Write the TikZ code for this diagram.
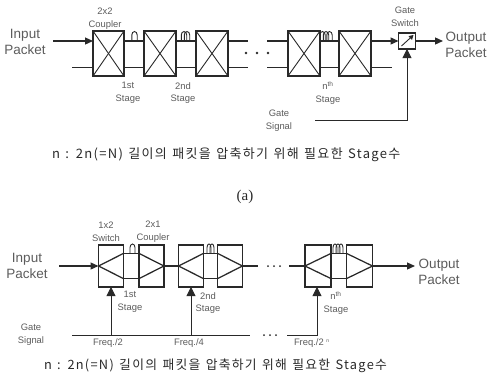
\documentclass[tikz,border=0pt]{standalone}
\usepackage{fontspec}
\setmainfont{Liberation Sans}
\newfontfamily\cjk[LetterSpace=10,WordSpace=1.3]{Noto Sans CJK KR}
\newfontfamily\serifrm{Liberation Serif}
\usetikzlibrary{arrows.meta,calc}
\definecolor{ink}{gray}{0.16}
\definecolor{soft}{gray}{0.36}
\tikzset{
  every node/.style={inner sep=0pt,outer sep=0pt},
  wire/.style={draw=ink,line width=1.25pt},
  thin wire/.style={draw=ink,line width=0.9pt},
  sig/.style={thin wire,-{Triangle[length=9pt,width=9pt]}},
  pkt/.style={wire,-{Triangle[length=8pt,width=7pt]}},
  xbox/.style={draw=ink,line width=1.3pt,minimum width=31pt,minimum height=45pt},
  ybox/.style={draw=ink,line width=1.3pt,minimum width=25pt,minimum height=42pt},
  coil/.style={draw=ink,line width=0.9pt},
  big/.style={text=soft,font=\fontsize{13.5}{16}\selectfont,align=center},
  small/.style={text=soft,font=\fontsize{9.4}{12.7}\selectfont,align=center},
  note/.style={text=ink,font=\fontsize{13}{15}\cjk,anchor=west}
}
\newcommand{\crossbox}[1]{
  \draw[thin wire] (#1.north west) -- (#1.south east);
  \draw[thin wire] (#1.south west) -- (#1.north east);
}
\newcommand{\splitbox}[1]{
  \draw[wire] (#1.west) -- ($(#1.north east)!0.2!(#1.south east)$);
  \draw[wire] (#1.west) -- ($(#1.north east)!0.8!(#1.south east)$);
}
\newcommand{\mergebox}[1]{
  \draw[wire] (#1.east) -- ($(#1.north west)!0.2!(#1.south west)$);
  \draw[wire] (#1.east) -- ($(#1.north west)!0.8!(#1.south west)$);
}
\newcommand{\coilat}[3]{
  \draw[coil] (#1-#3,#2) -- (#1-#3,#2-6) arc (-180:0:#3 and 3.5) -- (#1+#3,#2);
}
\begin{document}
\begin{tikzpicture}[x=1pt,y=-1pt]
\useasboundingbox (0,0) rectangle (490,378);
% ---- top diagram
\node[big] (inA) at (25,42) {Input\\Packet};
\node[small] (cplA) at (105,19) {2x2\\Coupler};
\node[xbox] (a1) at (108.5,53.5) {};
\node[xbox,minimum width=32pt] (a2) at (160,53.5) {};
\node[xbox,minimum width=32pt] (a3) at (212,53.5) {};
\node[xbox,minimum width=32pt] (a4) at (304,53.5) {};
\node[xbox,minimum width=32pt] (a5) at (355,53.5) {};
\foreach \b in {a1,a2,a3,a4,a5}{\crossbox{\b}}
\coordinate (i1) at (53,41);
\coordinate (i2) at (72,67.5);
\draw[pkt] (i1) -- (a1.west |- i1);
\draw[wire] (i2) -- (a1.west |- i2);
\draw[wire] (a1.east |- i1) -- (a2.west |- i1);
\draw[wire] (a1.east |- i2) -- (a2.west |- i2);
\draw[wire] (a2.east |- i1) -- (a3.west |- i1);
\draw[wire] (a2.east |- i2) -- (a3.west |- i2);
\coordinate (g1) at (248,41); \coordinate (g2) at (248,67.5);
\coordinate (h1) at (267,41); \coordinate (h2) at (267,67.5);
\draw[wire] (a3.east |- i1) -- (g1);
\draw[wire] (a3.east |- i2) -- (g2);
\draw[wire] (h1) -- (a4.west |- i1);
\draw[wire] (h2) -- (a4.west |- i2);
\draw[wire] (a4.east |- i1) -- (a5.west |- i1);
\draw[wire] (a4.east |- i2) -- (a5.west |- i2);
\fill[ink] (246,53) circle (1.3) (257,53) circle (1.3) (268,53) circle (1.3);
\coilat{134.5}{41}{2.7}
\coilat{184}{41}{2.7}\coilat{187}{41}{2.7}
\coilat{322.5}{41}{2.7}\coilat{326}{41}{2.7}\coilat{329.5}{41}{2.7}
\node[draw=ink,line width=1.3pt,minimum width=17pt,minimum height=16pt] (gs) at (407,41) {};
\draw[thin wire,-{Triangle[length=4.5pt,width=5pt]}] ($(gs.south west)+(3,-3)$) -- ($(gs.north east)+(-2,2)$);
\draw[pkt] (a5.east |- i1) -- (gs.west);
\draw[wire] (a5.east |- i2) -- (392,67.5);
\node[big] (outA) at (466,45) {Output\\Packet};
\draw[pkt] (gs.east) -- (443,41);
\node[small] (gsl) at (405,17) {Gate\\Switch};
\node[small] (s1) at (128,93) {1st\\Stage};
\node[small] (s2) at (183,93) {2nd\\Stage};
\node[small] (sn) at (328,93) {n$^{\mathrm{th}}$\\Stage};
\node[small] (gsig) at (279,121) {Gate\\Signal};
\coordinate (gc) at (315,120);
\draw[sig] (gc) -| (gs.south);
\node[note] (noteA) at (52,155) {n : 2n(=N) 길이의 패킷을 압축하기 위해 필요한 Stage수};
\node[font=\fontsize{15}{17}\serifrm,text=ink] (cap) at (245,197) {(a)};
% ---- bottom diagram
\node[big] (inB) at (27,266) {Input\\Packet};
\node[small] (sw) at (106,232) {1x2\\Switch};
\node[small] (cp) at (153,232) {2x1\\Coupler};
\node[ybox] (b1) at (111,266) {};
\node[ybox] (b2) at (151.5,266) {};
\node[ybox] (b3) at (191,266) {};
\node[ybox] (b4) at (230,266) {};
\node[ybox,minimum width=26pt] (b5) at (318,266) {};
\node[ybox,minimum width=26pt] (b6) at (359.5,266) {};
\foreach \b in {b1,b3,b5}{\splitbox{\b}}
\foreach \b in {b2,b4,b6}{\mergebox{\b}}
\coordinate (u) at (0,253.5); \coordinate (l) at (0,278.5);
\draw[pkt] (59,266) -- (b1.west);
\foreach \p/\q in {b1/b2,b3/b4,b5/b6}{
  \draw[wire] (\p.east |- u) -- (\q.west |- u);
  \draw[wire] (\p.east |- l) -- (\q.west |- l);
}
\draw[wire] (b2.east) -- (b3.west);
\coordinate (c1) at (258,266); \coordinate (c3) at (289,266);
\draw[wire] (b4.east) -- (c1);
\draw[wire] (c3) -- (b5.west);
\fill[ink] (268,266) circle (1) (274,266) circle (1) (280,266) circle (1);
\coilat{132.5}{253.5}{2.5}
\coilat{209}{253.5}{2}\coilat{212}{253.5}{2}
\coilat{335}{253.5}{2}\coilat{338}{253.5}{2}\coilat{341}{253.5}{2}
\node[big] (outB) at (439,272) {Output\\Packet};
\draw[pkt] (b6.east) -- (415,266);
\node[small] (t1) at (130,302) {1st\\Stage};
\node[small] (t2) at (208,303) {2nd\\Stage};
\node[small] (tn) at (336,303) {n$^{\mathrm{th}}$\\Stage};
\node[small] (gsb) at (31,335) {Gate\\Signal};
\coordinate (x0) at (72,335.5); \coordinate (x1) at (250,335.5);
\coordinate (x2) at (287,335.5); \coordinate (x3) at (317,335.5);
\draw[thin wire] (x0) -- (x1);
\draw[thin wire] (x2) -- (x3);
\fill[ink] (264,335) circle (1) (270,335) circle (1) (276,335) circle (1);
\draw[sig] (b1.south |- x0) -- (b1.south);
\draw[sig] (b3.south |- x0) -- (b3.south);
\draw[sig] (x3) -- (x3 |- b5.south);
\node[small] (f1) at (108,343) {Freq./2};
\node[small] (f2) at (189,343) {Freq./4};
\node[small,anchor=west] (f3) at (294,343) {Freq./2 \raisebox{3pt}{\fontsize{5}{6}\selectfont n}};
\node[note,font=\fontsize{12.8}{15}\cjk] (noteB) at (44,366) {n : 2n(=N) 길이의 패킷을 압축하기 위해 필요한 Stage수};
\end{tikzpicture}
\end{document}
